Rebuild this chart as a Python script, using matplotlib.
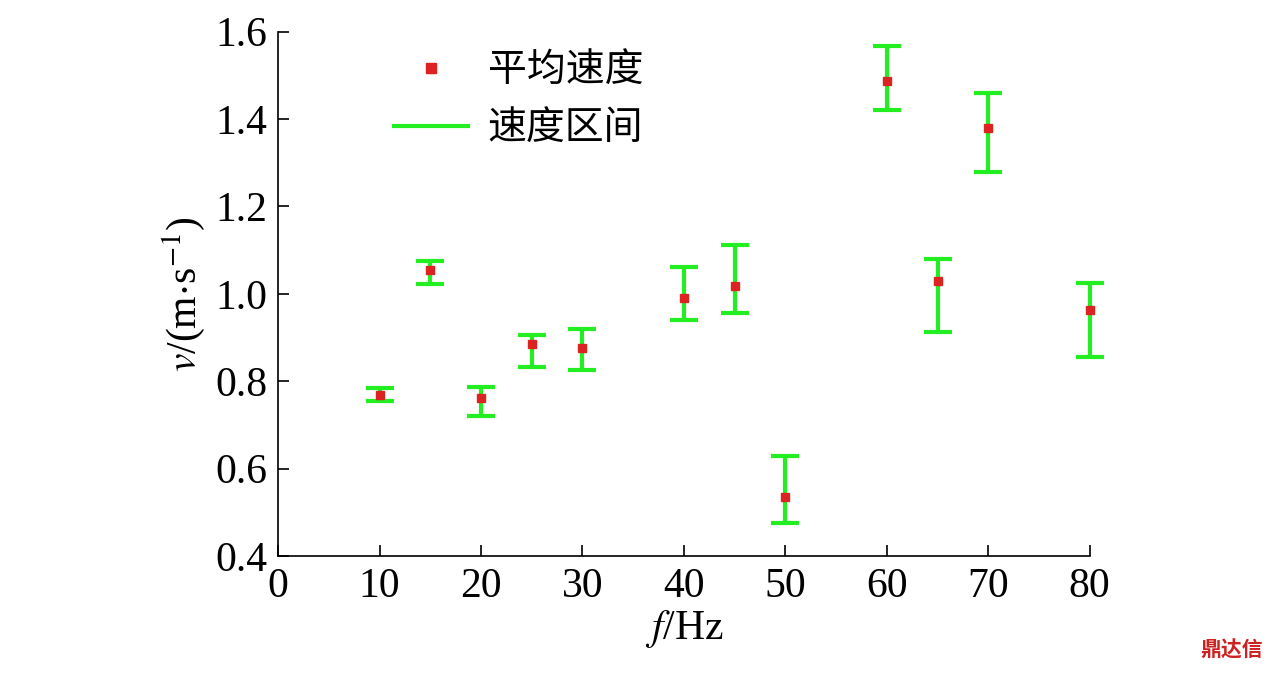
import matplotlib.pyplot as plt
from matplotlib.lines import Line2D

plt.rcParams['font.family'] = ['Liberation Serif', 'Noto Sans CJK SC']
plt.rcParams['mathtext.fontset'] = 'stix'

freq = [10, 15, 20, 25, 30, 40, 45, 50, 60, 65, 70, 80]
v_mean = [0.769, 1.055, 0.762, 0.885, 0.876, 0.991, 1.018, 0.535, 1.488, 1.030, 1.380, 0.963]
v_high = [0.785, 1.075, 0.787, 0.906, 0.920, 1.062, 1.112, 0.629, 1.568, 1.080, 1.460, 1.025]
v_low = [0.755, 1.023, 0.721, 0.833, 0.826, 0.940, 0.956, 0.476, 1.421, 0.913, 1.279, 0.856]

green = '#22ee22'
red = '#dd2222'

fig = plt.figure(figsize=(12.76, 6.74), dpi=100)
ax = fig.add_axes([0.218, 0.175, 0.636, 0.778])

yerr = [[m - l for m, l in zip(v_mean, v_low)], [h - m for m, h in zip(v_mean, v_high)]]
_, caps, bars = ax.errorbar(freq, v_mean, yerr=yerr, fmt='none', ecolor=green, elinewidth=3,
                            capsize=10, capthick=3, zorder=2)
for a in list(caps) + list(bars):
    a.set_clip_on(False)
ax.plot(freq, v_mean, 's', color=red, markersize=5.5, zorder=3, clip_on=False)

ax.set_xlim(0, 80)
ax.set_ylim(0.4, 1.6)
ax.set_xticks(range(0, 81, 10))
ax.set_yticks([0.4, 0.6, 0.8, 1.0, 1.2, 1.4, 1.6])
ax.set_yticklabels(['0.4', '0.6', '0.8', '1.0', '1.2', '1.4', '1.6'])
ax.tick_params(direction='in', labelsize=30, length=8, width=1.2, pad=8)
for s in ['top', 'right']:
    ax.spines[s].set_visible(False)
for s in ['left', 'bottom']:
    ax.spines[s].set_linewidth(1.2)

ax.set_xlabel(r'$f$/Hz', fontsize=30, labelpad=2)
ax.set_ylabel(r'$v$/(m$\cdot$s$^{-1}$)', fontsize=30, labelpad=6)

handles = [Line2D([], [], marker='s', color=red, linestyle='none', markersize=7),
           Line2D([], [], color=green, linewidth=3)]
ax.legend(handles, ['平均速度', '速度区间'], loc='upper left', bbox_to_anchor=(0.1, 1.03),
          frameon=False, prop={'family': 'Noto Sans CJK SC', 'size': 28},
          handlelength=1.9, handletextpad=0.5, labelspacing=0.45)

fig.text(0.99, 0.02, '鼎达信', ha='right', va='bottom', color='#cc2222', fontsize=15,
         family='Noto Sans CJK SC', weight='bold')

fig.savefig('out.png', dpi=100)
